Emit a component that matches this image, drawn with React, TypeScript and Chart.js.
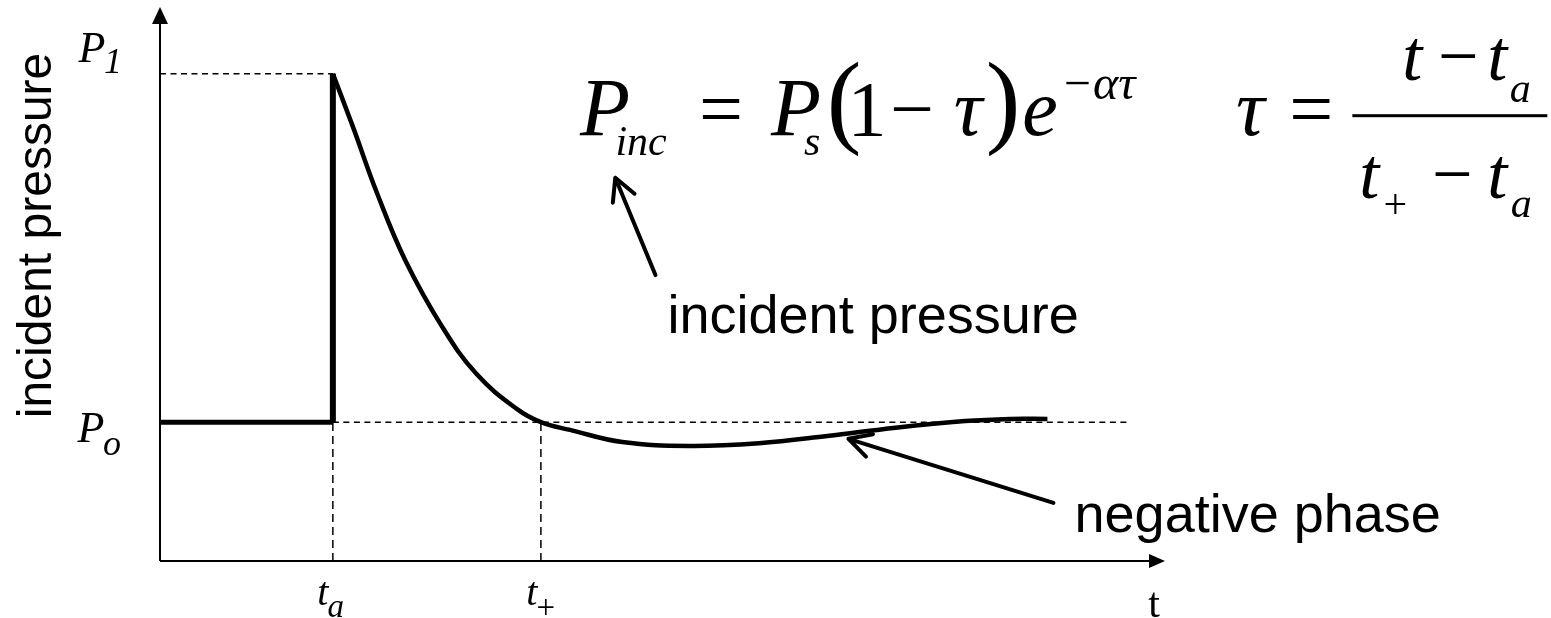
import { useEffect, useRef } from "react";
import { Chart, registerables } from "chart.js";

Chart.register(...registerables);

const W = 1551;
const H = 618;

// Axis ranges (arbitrary units)
const T_MAX = 100;
const P_MAX = 100;

// Characteristic times and pressure levels
const tArrival = 17.2;
const tPositive = 37.9;
const tDashEnd = 96.2;
const pAmbient = 25.1;
const pPeak = 88.1;

// Ambient pressure before the shock arrives
const ambientTime = [0, tArrival];
const ambientPressure = [pAmbient, pAmbient];

// Instant rise at arrival
const jumpTime = [tArrival, tArrival];
const jumpPressure = [pAmbient, pPeak];

// Decay after arrival, through the negative phase and back to ambient
const decayTime = [17.2, 19.2, 21.6, 24.4, 28.1, 31.5, 35.5, 37.9, 40.8, 46.0, 52.7, 59.6, 66.4, 73.2, 80.1, 84.6, 88.3];
const decayPressure = [88.1, 78.5, 66.5, 54.4, 42.3, 33.8, 27.5, 25.1, 23.7, 21.5, 20.8, 21.3, 22.6, 24.1, 25.3, 25.7, 25.7];

// Annotation arrows: [tailT, tailP, tipT, tipP]
const incidentArrow = [49.3, 51.7, 45.3, 69.3];
const negativeArrow = [88.9, 10.5, 68.5, 22.1];

const SERIF = "'Liberation Serif', 'Times New Roman', serif";
const SANS = "'Liberation Sans', Arial, sans-serif";

const pts = (xs: number[], ys: number[]) => xs.map((x, i) => ({ x, y: ys[i] }));

function dashed(xs: number[], ys: number[], dash: number[]) {
  return {
    data: pts(xs, ys),
    borderColor: "#000",
    borderWidth: 1.5,
    borderDash: dash,
    pointRadius: 0,
    tension: 0,
    fill: false,
  };
}

function glyph(
  ctx: CanvasRenderingContext2D,
  s: string,
  x: number,
  y: number,
  size: number,
  style: string,
  family: string,
  align: CanvasTextAlign = "center"
) {
  ctx.font = `${style} ${size}px ${family}`;
  ctx.textAlign = align;
  ctx.textBaseline = "alphabetic";
  ctx.fillText(s, x, y);
}

function arrow(ctx: CanvasRenderingContext2D, x1: number, y1: number, x2: number, y2: number) {
  const ang = Math.atan2(y1 - y2, x1 - x2);
  const len = 25;
  const spread = (28 * Math.PI) / 180;
  ctx.save();
  ctx.strokeStyle = "#000";
  ctx.lineWidth = 4;
  ctx.lineCap = "round";
  ctx.lineJoin = "round";
  ctx.beginPath();
  ctx.moveTo(x1, y1);
  ctx.lineTo(x2, y2);
  ctx.moveTo(x2 + len * Math.cos(ang - spread), y2 + len * Math.sin(ang - spread));
  ctx.lineTo(x2, y2);
  ctx.lineTo(x2 + len * Math.cos(ang + spread), y2 + len * Math.sin(ang + spread));
  ctx.stroke();
  ctx.restore();
}

const diagram = {
  id: "diagram",
  beforeDatasetsDraw(chart: any) {
    const { ctx, chartArea } = chart;
    const { left, right, top, bottom } = chartArea;
    ctx.save();
    ctx.strokeStyle = "#000";
    ctx.fillStyle = "#000";
    ctx.lineWidth = 2;
    ctx.beginPath();
    ctx.moveTo(left, bottom);
    ctx.lineTo(left, top + 14);
    ctx.moveTo(left, bottom);
    ctx.lineTo(right - 14, bottom);
    ctx.stroke();
    // arrow heads
    ctx.beginPath();
    ctx.moveTo(left, top - 1);
    ctx.lineTo(left - 8, top + 16);
    ctx.lineTo(left + 8, top + 16);
    ctx.closePath();
    ctx.fill();
    ctx.beginPath();
    ctx.moveTo(right, bottom);
    ctx.lineTo(right - 16, bottom - 7);
    ctx.lineTo(right - 16, bottom + 7);
    ctx.closePath();
    ctx.fill();
    ctx.restore();
  },
  afterDatasetsDraw(chart: any) {
    const { ctx, chartArea, scales } = chart;
    const xs = scales.x;
    const ys = scales.y;
    const X = (v: number) => xs.getPixelForValue(v);
    const Y = (v: number) => ys.getPixelForValue(v);
    const { left, right, bottom } = chartArea;
    ctx.save();
    ctx.fillStyle = "#000";

    // y-axis title
    ctx.save();
    ctx.translate(51, (chartArea.top + bottom) / 2 - 49);
    ctx.rotate(-Math.PI / 2);
    glyph(ctx, "incident pressure", 0, 0, 48, "normal", SANS);
    ctx.restore();

    // level labels
    const yP1 = Y(pPeak);
    glyph(ctx, "P", left - 68, yP1 - 12, 44, "italic", SERIF);
    glyph(ctx, "1", left - 47, yP1 - 1, 36, "italic", SERIF);
    const yPo = Y(pAmbient);
    glyph(ctx, "P", left - 69, yPo + 20, 44, "italic", SERIF);
    glyph(ctx, "o", left - 48, yPo + 33, 36, "italic", SERIF);

    // time labels
    const xa = X(tArrival);
    glyph(ctx, "t", xa - 10, bottom + 44, 40, "italic", SERIF);
    glyph(ctx, "a", xa + 3, bottom + 56, 33, "italic", SERIF);
    const xp = X(tPositive);
    glyph(ctx, "t", xp - 9, bottom + 44, 40, "italic", SERIF);
    glyph(ctx, "+", xp + 5, bottom + 57, 33, "normal", SERIF);
    glyph(ctx, "t", right - 11, bottom + 56, 42, "normal", SERIF);

    // pressure formula
    const fx = X(41.0);
    const fy = Y(77.0);
    glyph(ctx, "P", fx + 33, fy, 82, "italic", SERIF);
    glyph(ctx, "inc", fx + 69, fy + 20, 42, "italic", SERIF);
    glyph(ctx, "=", fx + 149, fy, 78, "normal", SERIF);
    glyph(ctx, "P", fx + 224, fy, 82, "italic", SERIF);
    glyph(ctx, "s", fx + 240, fy + 20, 42, "italic", SERIF);
    glyph(ctx, "(", fx + 272, fy - 1, 104, "normal", SERIF);
    glyph(ctx, "1", fx + 295, fy, 78, "normal", SERIF);
    glyph(ctx, "\u2212", fx + 340, fy, 78, "normal", SERIF);
    glyph(ctx, "\u03c4", fx + 396, fy, 80, "italic", SERIF);
    glyph(ctx, ")", fx + 431, fy - 1, 104, "normal", SERIF);
    glyph(ctx, "e", fx + 468, fy, 80, "italic", SERIF);
    glyph(ctx, "\u2212\u03b1\u03c4", fx + 526, fy - 36, 48, "italic", SERIF);

    // tau definition
    const gx = X(107.0);
    const gy = fy;
    glyph(ctx, "\u03c4", gx + 15, gy, 80, "italic", SERIF);
    glyph(ctx, "=", gx + 76, gy, 78, "normal", SERIF);
    ctx.fillRect(gx + 117, gy - 21, 195, 3);
    glyph(ctx, "t", gx + 177, gy - 55, 72, "italic", SERIF);
    glyph(ctx, "\u2212", gx + 223, gy - 55, 72, "normal", SERIF);
    glyph(ctx, "t", gx + 262, gy - 55, 72, "italic", SERIF);
    glyph(ctx, "a", gx + 285, gy - 33, 42, "italic", SERIF);
    glyph(ctx, "t", gx + 134, gy + 63, 72, "italic", SERIF);
    glyph(ctx, "+", gx + 160, gy + 83, 42, "normal", SERIF);
    glyph(ctx, "\u2212", gx + 217, gy + 63, 72, "normal", SERIF);
    glyph(ctx, "t", gx + 262, gy + 63, 72, "italic", SERIF);
    glyph(ctx, "a", gx + 286, gy + 82, 42, "italic", SERIF);

    // annotations
    glyph(ctx, "incident pressure", X(50.5), Y(41.2), 54, "normal", SANS, "left");
    glyph(ctx, "negative phase", X(91.0), Y(5.2), 54, "normal", SANS, "left");
    arrow(ctx, X(incidentArrow[0]), Y(incidentArrow[1]), X(incidentArrow[2]), Y(incidentArrow[3]));
    arrow(ctx, X(negativeArrow[0]), Y(negativeArrow[1]), X(negativeArrow[2]), Y(negativeArrow[3]));
    ctx.restore();
  },
};

export default function App() {
  const ref = useRef<HTMLCanvasElement | null>(null);

  useEffect(() => {
    if (!ref.current) return;
    const chart = new Chart(ref.current, {
      type: "line",
      data: {
        datasets: [
          dashed([0, tArrival], [pPeak, pPeak], [6, 4.5]),
          dashed([tArrival, tDashEnd], [pAmbient, pAmbient], [6, 4.5]),
          dashed([tArrival, tArrival], [0, pAmbient], [8, 5]),
          dashed([tPositive, tPositive], [0, pAmbient], [8, 5]),
          {
            data: pts(ambientTime, ambientPressure),
            borderColor: "#000",
            borderWidth: 5,
            pointRadius: 0,
            tension: 0,
            fill: false,
          },
          {
            data: pts(jumpTime, jumpPressure),
            borderColor: "#000",
            borderWidth: 6,
            pointRadius: 0,
            tension: 0,
            fill: false,
          },
          {
            data: pts(decayTime, decayPressure),
            borderColor: "#000",
            borderWidth: 4.5,
            pointRadius: 0,
            tension: 0.4,
            fill: false,
          },
        ] as any,
      },
      options: {
        responsive: false,
        animation: false,
        events: [],
        layout: { padding: { left: 160, right: 386, top: 8, bottom: 57 } },
        plugins: { legend: { display: false }, tooltip: { enabled: false } },
        scales: {
          x: { type: "linear", min: 0, max: T_MAX, display: false },
          y: { type: "linear", min: 0, max: P_MAX, display: false },
        },
      },
      plugins: [diagram],
    });
    return () => chart.destroy();
  }, []);

  return (
    <div style={{ position: "absolute", left: 0, top: 0, width: W, height: H, background: "#fff" }}>
      <canvas ref={ref} width={W} height={H} style={{ width: W, height: H, display: "block" }} />
    </div>
  );
}
